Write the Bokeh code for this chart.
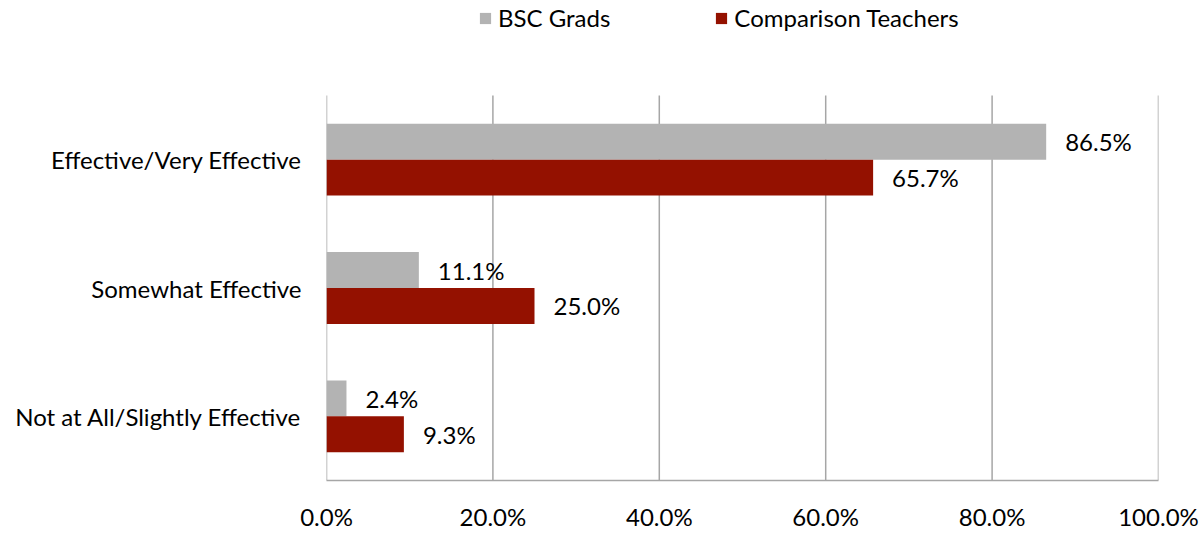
from bokeh.plotting import figure
from bokeh.models import (ColumnDataSource, Range1d, Legend, LegendItem,
                          LabelSet, PrintfTickFormatter, FixedTicker)
from bokeh.core.properties import value
from bokeh.embed import file_html
from bokeh.resources import INLINE

categories = ["Effective/Very Effective", "Somewhat Effective", "Not at All/Slightly Effective"]
bsc_grads = [86.5, 11.1, 2.4]
comparison = [65.7, 25.0, 9.3]
x_ticks = [0, 20, 40, 60, 80, 100]
series_names = ["BSC Grads", "Comparison Teachers"]

GRAY = "#B3B3B3"
RED = "#941100"
GRID = "#A6A6A6"
FONT = "Lato"
FS = "24px"

n = len(categories)
ypos = [n - 1 - i for i in range(n)]      # top category at the top
OFF = 0.14
BAR_H = 0.28

src = ColumnDataSource(dict(
    y_bsc=[y + OFF for y in ypos],
    y_comp=[y - OFF for y in ypos],
    bsc=bsc_grads,
    comp=comparison,
    bsc_lbl=["{:.1f}%".format(v) for v in bsc_grads],
    comp_lbl=["{:.1f}%".format(v) for v in comparison],
))

# frame spans the full top area (so the legend is drawn inside it);
# bars occupy -0.5 .. n-0.5, the rest above is empty headroom for the legend
p = figure(
    x_range=Range1d(0, 100),
    y_range=Range1d(-0.5, n - 0.5 + 0.7403),
    width=1204, height=533,
    min_border_left=326, min_border_right=46, min_border_top=0, min_border_bottom=48,
    output_backend="svg", toolbar_location=None,
    background_fill_color="white", border_fill_color="white",
    outline_line_color=None,
)

# vertical gridlines only across the category band
p.segment(x0=x_ticks, x1=x_ticks, y0=[-0.5] * len(x_ticks), y1=[n - 0.5] * len(x_ticks),
          line_color=GRID, line_width=1.5)

r1 = p.hbar(y="y_bsc", right="bsc", left=0, height=BAR_H,
            source=src, fill_color=GRAY, line_color=None)
r2 = p.hbar(y="y_comp", right="comp", left=0, height=BAR_H,
            source=src, fill_color=RED, line_color=None)

for col, ycol, lbl in (("bsc", "y_bsc", "bsc_lbl"), ("comp", "y_comp", "comp_lbl")):
    ls = LabelSet(x=col, y=ycol, text=lbl, source=src,
                  x_offset=19, text_baseline="middle", text_align="left",
                  text_font=value(FONT), text_font_size=FS, text_color="#000000")
    p.add_layout(ls)

# axes
p.xaxis.ticker = FixedTicker(ticks=x_ticks)
p.xaxis.formatter = PrintfTickFormatter(format="%.1f%%")
p.xaxis.major_label_text_font = FONT
p.xaxis.major_label_text_font_size = FS
p.xaxis.major_label_text_color = "#000000"
p.xaxis.major_label_standoff = 15
p.xaxis.major_tick_line_color = None
p.xaxis.minor_tick_line_color = None
p.xaxis.axis_line_color = GRID
p.xaxis.axis_line_width = 1.5

p.yaxis.ticker = FixedTicker(ticks=ypos)
p.yaxis.major_label_overrides = {y: c for y, c in zip(ypos, categories)}
p.yaxis.major_label_text_font = FONT
p.yaxis.major_label_text_font_size = FS
p.yaxis.major_label_text_color = "#000000"
p.yaxis.major_label_standoff = 19
p.yaxis.major_tick_line_color = None
p.yaxis.minor_tick_line_color = None
p.yaxis.axis_line_color = None

p.xgrid.grid_line_color = None
p.ygrid.grid_line_color = None

legend = Legend(
    items=[LegendItem(label=series_names[0], renderers=[r1]),
           LegendItem(label=series_names[1], renderers=[r2])],
    orientation="horizontal", location=(152, 448),
    label_text_font=FONT, label_text_font_size=FS, label_text_color="#000000",
    glyph_width=14, glyph_height=14, label_standoff=6, spacing=104,
    padding=0, margin=0, border_line_color=None, background_fill_alpha=0,
)
p.add_layout(legend, "center")

open("out.html", "w").write(file_html(p, INLINE))
